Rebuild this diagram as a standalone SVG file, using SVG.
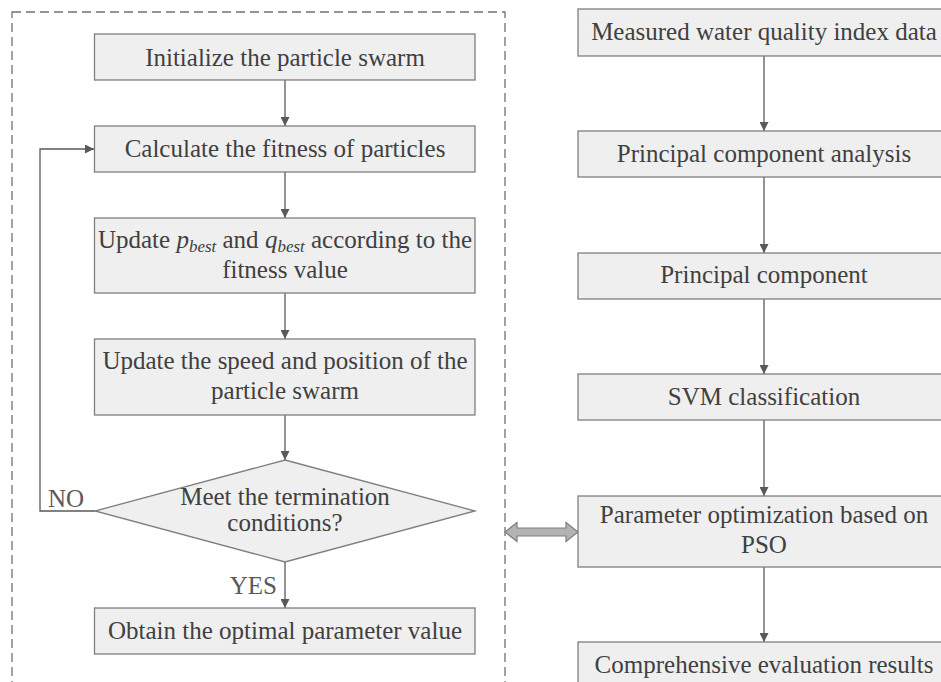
<svg xmlns="http://www.w3.org/2000/svg" width="941" height="682" viewBox="0 0 941 682">
<defs>
<style>
.box{fill:#efefef;stroke:#7f7f7f;stroke-width:1.3}
.t{font-family:"Liberation Serif","Times New Roman",serif;font-size:25px;fill:#404040;text-anchor:middle}
.lbl{font-family:"Liberation Serif","Times New Roman",serif;font-size:25px;fill:#595959}
.c{fill:none;stroke:#595959;stroke-width:1.3}
.sub{font-style:italic;font-size:17px}
.it{font-style:italic}
</style>
<marker id="ah" viewBox="0 0 10 10" refX="10" refY="5" markerWidth="10" markerHeight="9" markerUnits="userSpaceOnUse" orient="auto">
<path d="M0,0 L10,5 L0,10 Z" fill="#595959"/>
</marker>
</defs>
<rect width="941" height="682" fill="#ffffff"/>
<rect x="12" y="12" width="493" height="700" fill="none" stroke="#707070" stroke-width="1.3" stroke-dasharray="9,5"/>

<g id="connectors">
<line class="c" x1="285" y1="80" x2="285" y2="126" marker-end="url(#ah)"/>
<line class="c" x1="285" y1="172" x2="285" y2="218" marker-end="url(#ah)"/>
<line class="c" x1="285" y1="293" x2="285" y2="339" marker-end="url(#ah)"/>
<line class="c" x1="285" y1="415" x2="285" y2="460" marker-end="url(#ah)"/>
<line class="c" x1="285" y1="562" x2="285" y2="608" marker-end="url(#ah)"/>
<polyline class="c" points="95,511 40,511 40,149 94,149" marker-end="url(#ah)"/>
<line class="c" x1="764" y1="56" x2="764" y2="131" marker-end="url(#ah)"/>
<line class="c" x1="764" y1="177" x2="764" y2="253" marker-end="url(#ah)"/>
<line class="c" x1="764" y1="299" x2="764" y2="374" marker-end="url(#ah)"/>
<line class="c" x1="764" y1="420" x2="764" y2="496" marker-end="url(#ah)"/>
<line class="c" x1="764" y1="567" x2="764" y2="642" marker-end="url(#ah)"/>
<path d="M505,532 L517,522.5 L517,528 L566,528 L566,522.5 L578,532 L566,541.5 L566,536 L517,536 L517,541.5 Z" fill="#b3b3b3" stroke="#7f7f7f" stroke-width="1.2"/>
<text class="lbl" x="48" y="507">NO</text>
<text class="lbl" x="277" y="594" text-anchor="end">YES</text>
</g>

<g id="n1">
<rect class="box" x="94.5" y="34" width="380.5" height="46"/>
<text class="t" x="285" y="66">Initialize the particle swarm</text>
</g>
<g id="n2">
<rect class="box" x="94.5" y="126" width="380.5" height="46"/>
<text class="t" x="285" y="157">Calculate the fitness of particles</text>
</g>
<g id="n3">
<rect class="box" x="94.5" y="218" width="380.5" height="75"/>
<text class="t" x="285" y="248">Update <tspan class="it">p</tspan><tspan class="sub" dy="4">best</tspan><tspan dy="-4"> and </tspan><tspan class="it">q</tspan><tspan class="sub" dy="4">best</tspan><tspan dy="-4"> according to the</tspan></text>
<text class="t" x="285" y="278">fitness value</text>
</g>
<g id="n4">
<rect class="box" x="94.5" y="339" width="380.5" height="76"/>
<text class="t" x="285" y="369">Update the speed and position of the</text>
<text class="t" x="285" y="399">particle swarm</text>
</g>
<g id="n5">
<polygon class="box" points="285,460 475,511 285,562 95,511"/>
<text class="t" x="285" y="505">Meet the termination</text>
<text class="t" x="285" y="531">conditions?</text>
</g>
<g id="n6">
<rect class="box" x="94.5" y="608" width="380.5" height="46"/>
<text class="t" x="285" y="639">Obtain the optimal parameter value</text>
</g>

<g id="r1">
<rect class="box" x="578" y="9" width="372" height="47"/>
<text class="t" x="764" y="40">Measured water quality index data</text>
</g>
<g id="r2">
<rect class="box" x="578" y="131" width="372" height="46"/>
<text class="t" x="764" y="162">Principal component analysis</text>
</g>
<g id="r3">
<rect class="box" x="578" y="253" width="372" height="46"/>
<text class="t" x="764" y="283">Principal component</text>
</g>
<g id="r4">
<rect class="box" x="578" y="374" width="372" height="46"/>
<text class="t" x="764" y="405">SVM classification</text>
</g>
<g id="r5">
<rect class="box" x="578" y="496" width="372" height="71"/>
<text class="t" x="764" y="523">Parameter optimization based on</text>
<text class="t" x="764" y="553">PSO</text>
</g>
<g id="r6">
<rect class="box" x="578" y="642" width="372" height="60"/>
<text class="t" x="764" y="673">Comprehensive evaluation results</text>
</g>
</svg>
